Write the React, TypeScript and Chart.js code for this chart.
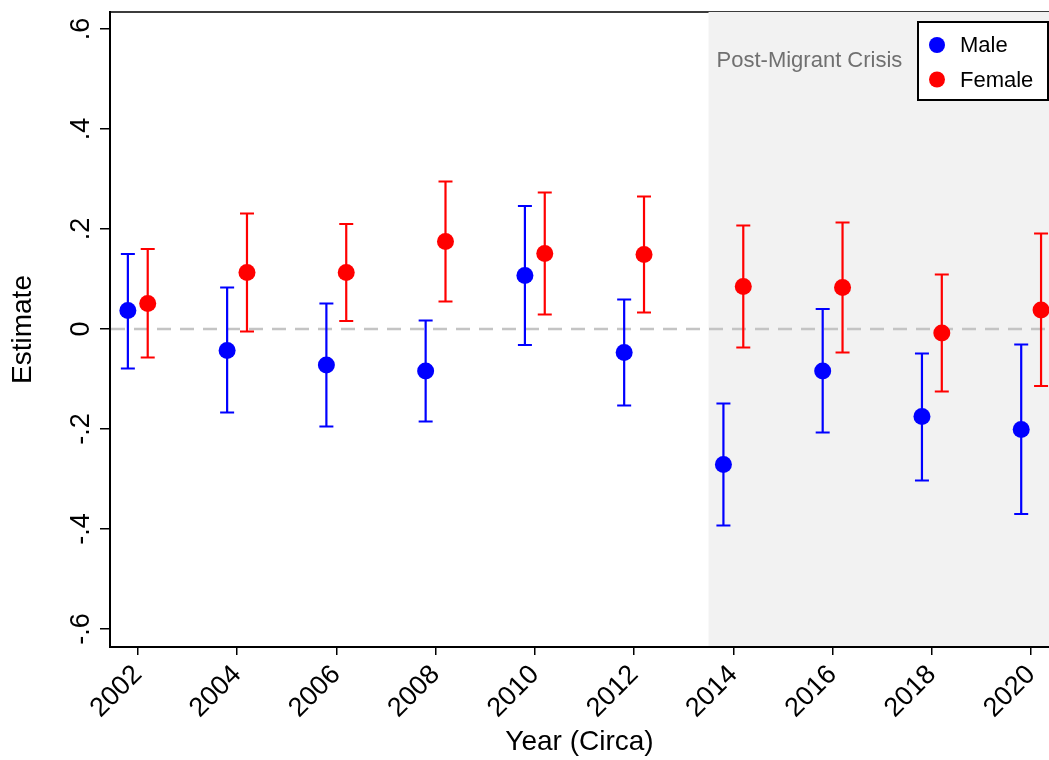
import React, { useEffect, useRef } from "react";
import { Chart, registerables } from "chart.js";

Chart.register(...registerables);

// ---------------- data ----------------
const years = [2002, 2004, 2006, 2008, 2010, 2012, 2014, 2016, 2018, 2020];

const maleEst = [0.037, -0.043, -0.072, -0.084, 0.107, -0.047, -0.271, -0.084, -0.175, -0.201];
const maleLo = [-0.079, -0.167, -0.195, -0.185, -0.032, -0.153, -0.393, -0.207, -0.303, -0.37];
const maleHi = [0.15, 0.083, 0.051, 0.017, 0.246, 0.059, -0.149, 0.04, -0.049, -0.031];

const femaleEst = [0.051, 0.113, 0.113, 0.175, 0.151, 0.149, 0.085, 0.083, -0.008, 0.038];
const femaleLo = [-0.057, -0.005, 0.016, 0.055, 0.029, 0.033, -0.037, -0.047, -0.125, -0.114];
const femaleHi = [0.16, 0.231, 0.21, 0.295, 0.273, 0.265, 0.207, 0.213, 0.109, 0.191];

const seriesNames = ["Male", "Female"];
const seriesColors = ["#0000ff", "#ff0000"];
const seriesDodge = [-0.2, 0.2];

const yTickValues = [-0.6, -0.4, -0.2, 0, 0.2, 0.4, 0.6];
const yTickLabels = ["-.6", "-.4", "-.2", "0", ".2", ".4", ".6"];
const xTickValues = years;

const shadeStart = 2013.5;
const shadeLabel = "Post-Migrant Crisis";
const xTitle = "Year (Circa)";
const yTitle = "Estimate";

const FONT = "'Liberation Sans', Arial, Helvetica, sans-serif";

const estimates = [maleEst, femaleEst];
const lows = [maleLo, femaleLo];
const highs = [maleHi, femaleHi];

// ---------------- plugin ----------------
const decorPlugin = {
  id: "decor",
  beforeDraw(chart: any) {
    const { ctx, chartArea: a, scales } = chart;
    const x = scales.x;
    const y = scales.y;
    ctx.save();
    ctx.fillStyle = "#ffffff";
    ctx.fillRect(0, 0, chart.width, chart.height);

    // top frame line
    ctx.strokeStyle = "#3c3c3c";
    ctx.lineWidth = 2;
    ctx.beginPath();
    ctx.moveTo(a.left - 1, a.top);
    ctx.lineTo(a.right, a.top);
    ctx.stroke();

    // shaded period
    const sx = x.getPixelForValue(shadeStart);
    ctx.fillStyle = "#f2f2f2";
    ctx.fillRect(sx, a.top, a.right - sx, a.bottom - a.top);

    ctx.fillStyle = "#707070";
    ctx.font = `22px ${FONT}`;
    ctx.textAlign = "left";
    ctx.textBaseline = "alphabetic";
    ctx.fillText(shadeLabel, sx + 8, a.top + 55);

    // zero reference line
    const zy = y.getPixelForValue(0);
    ctx.strokeStyle = "#c4c4c4";
    ctx.lineWidth = 2.5;
    ctx.setLineDash([14, 9]);
    ctx.beginPath();
    ctx.moveTo(a.left + 1, zy);
    ctx.lineTo(a.right, zy);
    ctx.stroke();
    ctx.setLineDash([]);
    ctx.restore();
  },
  beforeDatasetsDraw(chart: any) {
    const { ctx, scales } = chart;
    const x = scales.x;
    const y = scales.y;
    ctx.save();
    ctx.lineWidth = 2.2;
    for (let s = 0; s < 2; s++) {
      ctx.strokeStyle = seriesColors[s];
      for (let i = 0; i < years.length; i++) {
        const px = x.getPixelForValue(years[i] + seriesDodge[s]);
        const top = y.getPixelForValue(highs[s][i]);
        const bot = y.getPixelForValue(lows[s][i]);
        ctx.beginPath();
        ctx.moveTo(px, top);
        ctx.lineTo(px, bot);
        ctx.moveTo(px - 7, top);
        ctx.lineTo(px + 7, top);
        ctx.moveTo(px - 7, bot);
        ctx.lineTo(px + 7, bot);
        ctx.stroke();
      }
    }
    ctx.restore();
  },
  afterDraw(chart: any) {
    const { ctx, chartArea: a, scales } = chart;
    const y = scales.y;
    ctx.save();
    // y tick labels (rotated, Stata style)
    ctx.fillStyle = "#000";
    ctx.font = `27px ${FONT}`;
    ctx.textAlign = "center";
    ctx.textBaseline = "alphabetic";
    for (let i = 0; i < yTickValues.length; i++) {
      const py = y.getPixelForValue(yTickValues[i]);
      ctx.save();
      ctx.translate(a.left - 21.5, py);
      ctx.rotate(-Math.PI / 2);
      ctx.fillText(yTickLabels[i], 0, 0);
      ctx.restore();
    }

    // legend box
    const bw = 130;
    const bh = 78;
    const bx = a.right - 1 - bw;
    const by = a.top + 10;
    ctx.fillStyle = "#ffffff";
    ctx.fillRect(bx, by, bw, bh);
    ctx.strokeStyle = "#000";
    ctx.lineWidth = 2;
    ctx.strokeRect(bx, by, bw, bh);
    ctx.font = `22px ${FONT}`;
    ctx.textAlign = "left";
    ctx.textBaseline = "middle";
    for (let s = 0; s < 2; s++) {
      const cy = by + 23 + s * 34.5;
      ctx.fillStyle = seriesColors[s];
      ctx.beginPath();
      ctx.arc(bx + 19, cy, 8, 0, Math.PI * 2);
      ctx.fill();
      ctx.fillStyle = "#000";
      ctx.fillText(seriesNames[s], bx + 42, cy + 1);
    }
    ctx.restore();
  },
};

export default function App() {
  const canvasRef = useRef<HTMLCanvasElement | null>(null);

  useEffect(() => {
    const canvas = canvasRef.current;
    if (!canvas) return;
    const datasets = [0, 1].map((s) => ({
      label: seriesNames[s],
      data: years.map((yr, i) => ({ x: yr + seriesDodge[s], y: estimates[s][i] })),
      backgroundColor: seriesColors[s],
      borderColor: seriesColors[s],
      pointRadius: 8.5,
      pointHoverRadius: 8.5,
      pointBorderWidth: 0,
      showLine: false,
    }));

    const chart = new Chart(canvas, {
      type: "scatter",
      data: { datasets },
      plugins: [decorPlugin],
      options: {
        responsive: false,
        animation: false,
        devicePixelRatio: 1,
        layout: { autoPadding: false, padding: { top: 12, left: 0, right: 0, bottom: 0 } },
        plugins: {
          legend: { display: false },
          tooltip: { enabled: false },
        },
        scales: {
          x: {
            type: "linear",
            min: 2001.44,
            max: 2020.36,
            afterBuildTicks: (scale: any) => {
              scale.ticks = xTickValues.map((v) => ({ value: v }));
            },
            afterFit: (scale: any) => {
              scale.height = 113;
              scale.paddingRight = 0;
              scale.paddingLeft = 0;
            },
            grid: {
              drawOnChartArea: false,
              drawTicks: true,
              tickLength: 8,
              color: "#000",
              lineWidth: 1.5,
            },
            border: { display: true, color: "#000", width: 2 },
            ticks: {
              autoSkip: false,
              minRotation: 45,
              maxRotation: 45,
              padding: 4,
              color: "#000",
              font: { family: FONT, size: 27 },
              callback: (v: any) => String(v),
            },
            title: {
              display: true,
              text: xTitle,
              color: "#000",
              font: { family: FONT, size: 28 },
              padding: { top: 0, bottom: 1 },
            },
          },
          y: {
            type: "linear",
            min: -0.636,
            max: 0.634,
            afterBuildTicks: (scale: any) => {
              scale.ticks = yTickValues.map((v) => ({ value: v }));
            },
            afterFit: (scale: any) => {
              scale.width = 110;
              scale.paddingTop = 0;
              scale.paddingBottom = 0;
            },
            grid: {
              drawOnChartArea: false,
              drawTicks: true,
              tickLength: 10,
              color: "#000",
              lineWidth: 1.5,
            },
            border: { display: true, color: "#000", width: 2 },
            ticks: { display: false },
            title: {
              display: true,
              text: yTitle,
              color: "#000",
              font: { family: FONT, size: 28 },
              padding: { top: 6, bottom: 0 },
            },
          },
        },
      } as any,
    });
    return () => chart.destroy();
  }, []);

  return (
    <div style={{ position: "absolute", left: 0, top: 0, width: 1049, height: 760 }}>
      <canvas ref={canvasRef} width={1049} height={760} />
    </div>
  );
}
